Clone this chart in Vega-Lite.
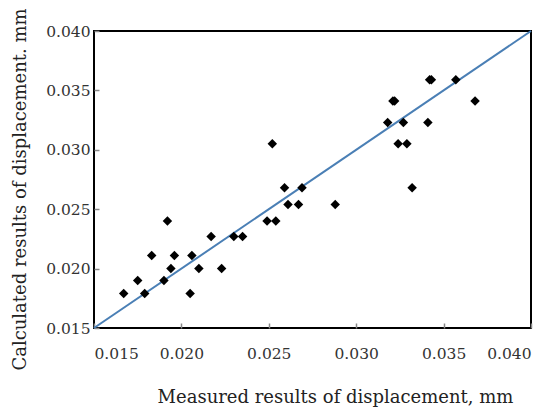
{
  "$schema": "https://vega.github.io/schema/vega-lite/v6.json",
  "autosize": "none",
  "padding": {"left": 94, "top": 31, "right": 24, "bottom": 81},
  "width": 437,
  "height": 297,
  "background": "white",
  "config": {
    "view": {"stroke": "black", "strokeWidth": 2},
    "axis": {"grid": false, "domain": false, "labelFont": "DejaVu Serif", "titleFont": "DejaVu Serif", "labelFontSize": 15.5, "titleFontSize": 18, "labelColor": "#333", "titleColor": "#222", "titleFontWeight": "normal", "tickColor": "#888", "tickSize": -5, "tickWidth": 1.5}
  },
  "datasets": {
    "pts": [
      {"measured": 0.0167, "calculated": 0.0179},
      {"measured": 0.0175, "calculated": 0.0190},
      {"measured": 0.0179, "calculated": 0.0179},
      {"measured": 0.0183, "calculated": 0.0211},
      {"measured": 0.0190, "calculated": 0.0190},
      {"measured": 0.0192, "calculated": 0.0240},
      {"measured": 0.0194, "calculated": 0.0200},
      {"measured": 0.0196, "calculated": 0.0211},
      {"measured": 0.0205, "calculated": 0.0179},
      {"measured": 0.0206, "calculated": 0.0211},
      {"measured": 0.0210, "calculated": 0.0200},
      {"measured": 0.0217, "calculated": 0.0227},
      {"measured": 0.0223, "calculated": 0.0200},
      {"measured": 0.0230, "calculated": 0.0227},
      {"measured": 0.0235, "calculated": 0.0227},
      {"measured": 0.0249, "calculated": 0.0240},
      {"measured": 0.0252, "calculated": 0.0305},
      {"measured": 0.0254, "calculated": 0.0240},
      {"measured": 0.0259, "calculated": 0.0268},
      {"measured": 0.0261, "calculated": 0.0254},
      {"measured": 0.0267, "calculated": 0.0254},
      {"measured": 0.0269, "calculated": 0.0268},
      {"measured": 0.0288, "calculated": 0.0254},
      {"measured": 0.0318, "calculated": 0.0323},
      {"measured": 0.0321, "calculated": 0.0341},
      {"measured": 0.0322, "calculated": 0.0341},
      {"measured": 0.0324, "calculated": 0.0305},
      {"measured": 0.0327, "calculated": 0.0323},
      {"measured": 0.0329, "calculated": 0.0305},
      {"measured": 0.0332, "calculated": 0.0268},
      {"measured": 0.0341, "calculated": 0.0323},
      {"measured": 0.0342, "calculated": 0.0359},
      {"measured": 0.0343, "calculated": 0.0359},
      {"measured": 0.0357, "calculated": 0.0359},
      {"measured": 0.0368, "calculated": 0.0341}
    ],
    "line": [
      {"measured": 0.015, "calculated": 0.015},
      {"measured": 0.040, "calculated": 0.040}
    ]
  },
  "layer": [
    {
      "data": {"name": "line"},
      "mark": {"type": "line", "color": "#4a7fb5", "strokeWidth": 2},
      "encoding": {
        "x": {"field": "measured", "type": "quantitative", "scale": {"domain": [0.015, 0.04], "nice": false, "zero": false},
          "axis": {"values": [0.015, 0.02, 0.025, 0.03, 0.035, 0.04], "format": ".3f", "title": "Measured results of displacement, mm", "labelPadding": 23, "titleX": 241, "titleY": 69, "titleBaseline": "middle", "titleAnchor": null}},
        "y": {"field": "calculated", "type": "quantitative", "scale": {"domain": [0.015, 0.04], "nice": false, "zero": false},
          "axis": {"values": [0.015, 0.02, 0.025, 0.03, 0.035, 0.04], "format": ".3f", "title": "Calculated results of displacement. mm", "labelPadding": 9, "titleX": -74, "titleY": 158, "titleBaseline": "middle", "titleAngle": -90}}
      }
    },
    {
      "data": {"name": "pts"},
      "mark": {"type": "point", "shape": "diamond", "filled": true, "color": "black", "size": 90, "opacity": 1},
      "encoding": {
        "x": {"field": "measured", "type": "quantitative"},
        "y": {"field": "calculated", "type": "quantitative"}
      }
    }
  ]
}
